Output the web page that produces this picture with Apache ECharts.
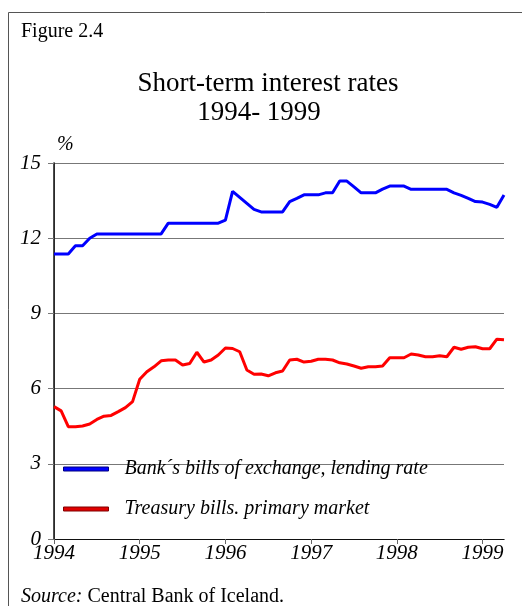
<!DOCTYPE html>
<html>
<head>
<meta charset="utf-8">
<script src="https://cdn.jsdelivr.net/npm/echarts@6/dist/echarts.min.js"></script>
<style>
  html, body { margin: 0; padding: 0; background: #fff; }
  #chart { width: 522px; height: 606px; }
</style>
</head>
<body>
<div id="chart"></div>
<script>
// monthly values, Jan 1994 .. Apr 1999
const startYear = 1994
const yearTicks = [1994, 1995, 1996, 1997, 1998, 1999]
const seriesNames = ['Bank´s bills of exchange, lending rate', 'Treasury bills. primary market']

const billsOfExchange = [
  11.37, 11.37, 11.37, 11.7, 11.7, 12.0, 12.17, 12.17, 12.17, 12.17,
  12.17, 12.17, 12.17, 12.17, 12.17, 12.17, 12.6, 12.6, 12.6, 12.6,
  12.6, 12.6, 12.6, 12.6, 12.72, 13.87, 13.63, 13.39, 13.15, 13.05,
  13.05, 13.05, 13.05, 13.46, 13.59, 13.73, 13.73, 13.73, 13.81, 13.81,
  14.28, 14.28, 14.05, 13.81, 13.81, 13.81, 13.96, 14.08, 14.08, 14.08,
  13.95, 13.95, 13.95, 13.95, 13.95, 13.95, 13.81, 13.71, 13.59, 13.46,
  13.44, 13.35, 13.23, 13.72
]
const treasuryBills = [
  5.28, 5.11, 4.48, 4.48, 4.51, 4.59, 4.77, 4.9, 4.93, 5.08,
  5.24, 5.48, 6.37, 6.67, 6.87, 7.11, 7.14, 7.14, 6.94, 7.0,
  7.45, 7.06, 7.14, 7.34, 7.62, 7.6, 7.47, 6.74, 6.57, 6.58,
  6.51, 6.63, 6.7, 7.14, 7.17, 7.06, 7.09, 7.17, 7.17, 7.14,
  7.03, 6.98, 6.9, 6.81, 6.87, 6.87, 6.9, 7.23, 7.23, 7.23,
  7.38, 7.34, 7.27, 7.27, 7.31, 7.27, 7.65, 7.57, 7.65, 7.67,
  7.59, 7.59, 7.97, 7.95
]

const serif = 'Liberation Serif'
const chart = echarts.init(document.getElementById('chart'))

const toPoints = (arr) => arr.map((v, i) => [i, v])

const option = {
  animation: false,
  title: [
    {
      text: 'Short-term interest rates',
      left: 263, top: 65, textAlign: 'center',
      textStyle: { fontFamily: serif, fontSize: 27, fontWeight: 'normal', color: '#000' }
    },
    {
      text: '1994- 1999',
      left: 254, top: 94, textAlign: 'center',
      textStyle: { fontFamily: serif, fontSize: 27, fontWeight: 'normal', color: '#000' }
    }
  ],
  graphic: [
    {
      type: 'rect', silent: true,
      shape: { x: 8.5, y: 12.5, width: 700, height: 800 },
      style: { fill: 'none', stroke: '#555', lineWidth: 1 }
    },
    {
      type: 'text', left: 21, top: 22,
      style: { text: 'Figure 2.4', font: '20px "Liberation Serif"', fill: '#000' }
    },
    {
      type: 'text', left: 21, top: 587,
      style: {
        text: '{i|Source:} Central Bank of Iceland.',
        font: '20px "Liberation Serif"', fill: '#000',
        rich: { i: { fontStyle: 'italic', fontFamily: serif, fontSize: 20 } }
      }
    }
  ],
  legend: {
    orient: 'vertical',
    left: 63, top: 459,
    padding: 0,
    itemGap: 20,
    itemWidth: 45, itemHeight: 4,
    icon: 'rect',
    textStyle: {
      fontFamily: serif, fontStyle: 'italic', fontSize: 20, color: '#000',
      padding: [0, 0, 0, 11]
    },
    data: [
      { name: seriesNames[0], itemStyle: { color: '#0000ff', borderColor: '#000080', borderWidth: 1 } },
      { name: seriesNames[1], itemStyle: { color: '#e00000', borderColor: '#800000', borderWidth: 1 } }
    ]
  },
  grid: { left: 54, right: 18, top: 163, bottom: 67 },
  xAxis: [
    {
      type: 'value', min: 0, max: 63, interval: 12,
      axisLine: { lineStyle: { color: '#666', width: 1 } },
      axisTick: { length: 5, lineStyle: { color: '#666' } },
      splitLine: { show: false },
      axisLabel: {
        margin: 4, color: '#000', fontFamily: serif, fontStyle: 'italic', fontSize: 21,
        showMaxLabel: false,
        formatter: (v) => yearTicks[v / 12] !== undefined ? String(startYear + v / 12) : ''
      }
    },
    {
      type: 'value', position: 'top', min: 0, max: 63,
      axisLine: { lineStyle: { color: '#111', width: 1 } },
      axisTick: { show: false }, axisLabel: { show: false }, splitLine: { show: false }
    }
  ],
  yAxis: [
    {
      type: 'value', min: 0, max: 15, interval: 3,
      name: '%',
      nameLocation: 'end', nameGap: 8,
      nameTextStyle: { fontFamily: serif, fontStyle: 'italic', fontSize: 20, color: '#000', align: 'left', padding: [0, 0, 0, 3] },
      axisLine: { show: true, lineStyle: { color: '#777', width: 1 } },
      axisTick: { show: true, length: 6, lineStyle: { color: '#777' } },
      splitLine: { lineStyle: { color: '#777', width: 1 } },
      axisLabel: { margin: 13, color: '#000', fontFamily: serif, fontStyle: 'italic', fontSize: 21 }
    },
    {
      type: 'value', position: 'right', min: 0, max: 15,
      axisLine: { show: true, lineStyle: { color: '#111', width: 1.5 } },
      axisTick: { show: false }, axisLabel: { show: false }, splitLine: { show: false }
    }
  ],
  series: [
    {
      name: seriesNames[0], type: 'line', showSymbol: false, symbol: 'none',
      lineStyle: { color: '#0000ff', width: 3 },
      itemStyle: { color: '#0000ff' },
      data: toPoints(billsOfExchange), z: 3
    },
    {
      name: seriesNames[1], type: 'line', showSymbol: false, symbol: 'none',
      lineStyle: { color: '#ff0000', width: 3 },
      itemStyle: { color: '#ff0000' },
      data: toPoints(treasuryBills), z: 3
    }
  ]
}
chart.setOption(option)
</script>
</body>
</html>
